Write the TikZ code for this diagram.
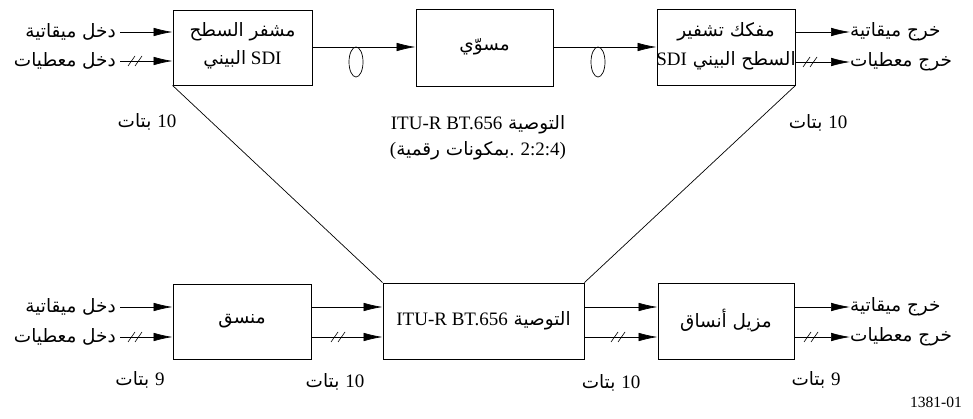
\documentclass[tikz,border=0pt]{standalone}
\usepackage{fontspec}
\setmainfont{Liberation Serif}
\newfontfamily\arabicfont[Script=Arabic,Scale=0.97]{DejaVu Sans}
\TeXXeTstate=1
\usetikzlibrary{arrows.meta}
\newcommand{\arb}[1]{{\arabicfont\beginR #1\endR}}
\newcommand{\ltr}[1]{\beginL #1\endL}
\begin{document}
\begin{tikzpicture}[x=1pt,y=-1pt,
  font=\fontsize{19}{21}\selectfont,
  blk/.style={draw, line width=0.9pt, inner sep=0pt},
  txt/.style={inner sep=0pt},
  conn/.style={line width=0.7pt},
  arr/.style={line width=0.7pt, -{Latex[length=19pt,width=8.5pt]}},
  slashes/.pic={\draw[line width=0.6pt] (-7,5)--(0,-5); \draw[line width=0.6pt] (0,5)--(7,-5);}
]
\useasboundingbox (0,0) rectangle (973,419);

% boxes
\node[blk, minimum width=139pt, minimum height=75pt] (enc) at (242.5,47.5) {};
\node[blk, minimum width=137pt, minimum height=77pt] (equ) at (484.5,47.5) {};
\node[blk, minimum width=138pt, minimum height=76pt] (dec) at (726,47) {};
\node[blk, minimum width=138pt, minimum height=75pt] (fmt) at (242,321.5) {};
\node[blk, minimum width=201pt, minimum height=76pt] (rec) at (483.5,321) {};
\node[blk, minimum width=136pt, minimum height=76pt] (dfm) at (726,321) {};

% box texts
\node[txt] (enc1) at (242.5,32) {\arb{مشفر السطح}};
\node[txt] (enc2) at (242.5,60) {\arb{البيني} SDI};
\node[txt] (equ1) at (484.5,47) {\arb{مسوّي}};
\node[txt] (dec1) at (726,32) {\arb{مفكك تشفير}};
\node[txt] (dec2) at (726,61) {\arb{السطح البيني {\rmfamily\ltr{SDI}}}};
\node[txt] (fmt1) at (242,321) {\arb{منسق}};
\node[txt] (rec1) at (483.5,321) {\arb{التوصية {\rmfamily\ltr{ITU-R BT.656}}}};
\node[txt] (dfm1) at (726,321) {\arb{مزيل أنساق}};

% top inputs
\node[txt, anchor=east] (ti1) at (116,32) {\arb{دخل ميقاتية}};
\node[txt, anchor=east] (ti2) at (116,61) {\arb{دخل معطيات}};
\draw[arr] (ti1.east) ++(4,0) coordinate (ti1s) -- (ti1s -| enc.west);
\draw[arr] (ti2.east) ++(4,0) coordinate (ti2s) -- (ti2s -| enc.west);
\pic at (135,61) {slashes};

% top chain
\draw[arr] (enc.east |- 0,47) -- (equ.west |- 0,47);
\draw[arr] (equ.east |- 0,47) -- (dec.west |- 0,47);
\draw[conn] (356,62) ellipse [x radius=7, y radius=15];
\draw[conn] (598,62) ellipse [x radius=7, y radius=15];

% top outputs
\node[txt, anchor=west] (to1) at (850,32) {\arb{خرج ميقاتية}};
\node[txt, anchor=west] (to2) at (850,62) {\arb{خرج معطيات}};
\draw[arr] (dec.east |- to1.west) -- (to1.west);
\draw[arr] (dec.east |- to2.west) -- (to2.west);
\pic at (810,62) {slashes};

% diagonals
\draw[conn] (enc.south west) -- (rec.north west);
\draw[conn] (dec.south east) -- (rec.north east);

% top labels
\node[txt] (lb1) at (147,122) {\arb{{\rmfamily\ltr{10}} بتات}};
\node[txt] (lb2) at (818,123) {\arb{{\rmfamily\ltr{10}} بتات}};
\node[txt] (cap1) at (478,125) {\arb{التوصية {\rmfamily\ltr{ITU-R BT.656}}}};
\node[txt] (cap2) at (478,151) {(\arb{بمكونات رقمية}. {\rmfamily 2:2:4})};

% bottom inputs
\node[txt, anchor=east] (bi1) at (116,307) {\arb{دخل ميقاتية}};
\node[txt, anchor=east] (bi2) at (116,337) {\arb{دخل معطيات}};
\draw[arr] (bi1.east) ++(4,0) coordinate (bi1s) -- (bi1s -| fmt.west);
\draw[arr] (bi2.east) ++(4,0) coordinate (bi2s) -- (bi2s -| fmt.west);
\pic at (135,337) {slashes};

% bottom chain
\draw[arr] (fmt.east |- 0,307) -- (rec.west |- 0,307);
\draw[arr] (fmt.east |- 0,337) -- (rec.west |- 0,337);
\pic at (338,337) {slashes};
\draw[arr] (rec.east |- 0,307) -- (dfm.west |- 0,307);
\draw[arr] (rec.east |- 0,337) -- (dfm.west |- 0,337);
\pic at (618,337) {slashes};

% bottom outputs
\node[txt, anchor=west] (bo1) at (850,307) {\arb{خرج ميقاتية}};
\node[txt, anchor=west] (bo2) at (850,337) {\arb{خرج معطيات}};
\draw[arr] (dfm.east |- bo1.west) -- (bo1.west);
\draw[arr] (dfm.east |- bo2.west) -- (bo2.west);
\pic at (811,337) {slashes};

% bottom labels
\node[txt] (bl1) at (140,380) {\arb{{\rmfamily\ltr{9}} بتات}};
\node[txt] (bl2) at (335,382) {\arb{{\rmfamily\ltr{10}} بتات}};
\node[txt] (bl3) at (611,383) {\arb{{\rmfamily\ltr{10}} بتات}};
\node[txt] (bl4) at (816,380) {\arb{{\rmfamily\ltr{9}} بتات}};
\node[txt, font=\fontsize{15.6}{17}\selectfont] (fig) at (936,402) {1381-01};
\end{tikzpicture}
\end{document}
